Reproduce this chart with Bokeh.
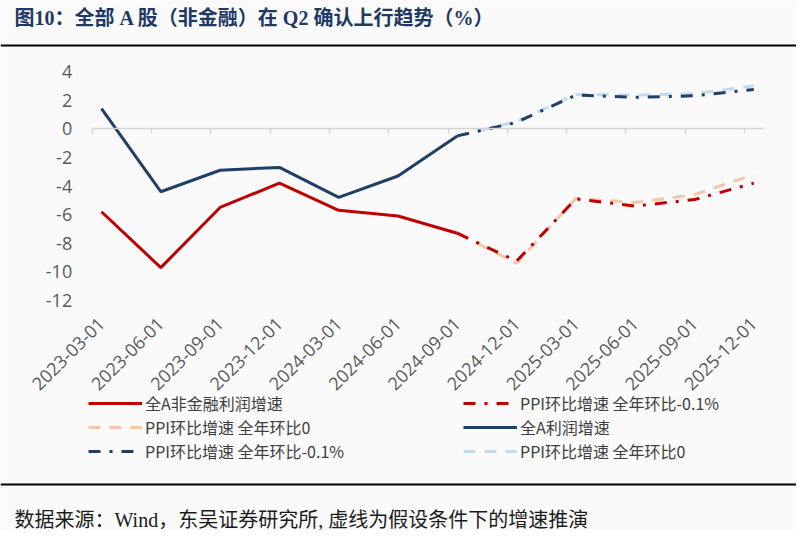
import math
from bokeh.plotting import figure
from bokeh.models import (Range1d, FixedTicker, LinearAxis, Legend, LegendItem, Label, Span)
from bokeh.embed import file_html
from bokeh.resources import INLINE

# ---------------- data ----------------
dates = ["2023-03-01", "2023-06-01", "2023-09-01", "2023-12-01",
         "2024-03-01", "2024-06-01", "2024-09-01", "2024-12-01",
         "2025-03-01", "2025-06-01", "2025-09-01", "2025-12-01"]
y_ticks = [-12, -10, -8, -6, -4, -2, 0, 2, 4]
y_tick_labels = ["-12", "-10", "-8", "-6", "-4", "-2", "0", "2", "4"]

# actual (2023-03 .. 2024-09)
nonfin_actual = [-5.8, -9.7, -5.5, -3.8, -5.7, -6.1, -7.3]
all_actual = [1.4, -4.4, -2.9, -2.7, -4.8, -3.3, -0.5]
# projections (2024-09 .. 2025-12)
nonfin_ppi_m01 = [-7.3, -9.25, -4.9, -5.4, -4.95, -3.8]
nonfin_ppi_0 = [-7.3, -9.4, -4.85, -5.15, -4.6, -3.2]
all_ppi_m01 = [-0.5, 0.45, 2.35, 2.2, 2.3, 2.75]
all_ppi_0 = [-0.5, 0.5, 2.4, 2.35, 2.45, 3.0]

series_names = ["全A非金融利润增速", "PPI环比增速 全年环比-0.1%", "PPI环比增速 全年环比0",
                "全A利润增速", "PPI环比增速 全年环比-0.1%", "PPI环比增速 全年环比0"]
title_text = "图10：全部 A 股（非金融）在 Q2 确认上行趋势（%）"
source_text = "数据来源：Wind，东吴证券研究所, 虚线为假设条件下的增速推演"

x_actual = list(range(len(nonfin_actual)))
x_proj = list(range(len(nonfin_actual) - 1, len(dates)))

# ---------------- layout (pixel geometry) ----------------
W, H = 796, 530
CAT_PX = 59.3          # px per category
X_FIRST = 101          # px of first category
Y_TOP_PX = 71          # px of y = 4
Y_PX = 229 / 16        # px per unit


def xd(px):
    return (px - X_FIRST) / CAT_PX


def yd(py):
    return y_ticks[-1] - (py - Y_TOP_PX) / Y_PX


BG = "#fafafa"
RED = "#c00000"
PEACH = "#f6c6a9"
NAVY = "#203f66"
LBLUE = "#c3dbf0"
GREY = "#595959"
CJK = "Noto Sans CJK SC"
MIXED = "Liberation Serif, Noto Sans CJK SC"
DASH = "12 9"
DASHDOT = "12 9 3 9"
AX_LEFT = xd(91.7)
AX_RIGHT = xd(763)

p = figure(width=W, height=H, output_backend="svg", toolbar_location=None,
           x_range=Range1d(xd(0), xd(W)), y_range=Range1d(yd(H), yd(0)),
           min_border=0, x_axis_location=None, y_axis_location=None,
           background_fill_color=BG, border_fill_color=BG, outline_line_color=None)
p.grid.visible = False

# y axis (labels only)
yax = LinearAxis(fixed_location=AX_LEFT, ticker=FixedTicker(ticks=y_ticks),
                 major_label_overrides=dict(zip(y_ticks, y_tick_labels)),
                 axis_line_color=None, major_tick_line_color=None,
                 minor_tick_line_color=None, major_label_text_font_size="18px",
                 major_label_text_color=GREY, major_label_text_font="Open Sans",
                 major_label_standoff=14)
p.add_layout(yax, "left")

# zero line with category ticks
zax = LinearAxis(fixed_location=0, bounds=(AX_LEFT, AX_RIGHT),
                 ticker=FixedTicker(ticks=[i + AX_LEFT for i in range(len(dates))]),
                 axis_line_color="#d4d4d4", axis_line_width=1.5,
                 major_tick_line_color="#d4d4d4", major_tick_line_width=1.5,
                 major_tick_out=5, major_tick_in=0, minor_tick_line_color=None,
                 major_label_text_alpha=0, major_label_text_font_size="1px",
                 major_label_standoff=0)
p.add_layout(zax, "below")

# category labels at the bottom of the plot area
xlab = LinearAxis(fixed_location=y_ticks[0], ticker=FixedTicker(ticks=list(range(len(dates)))),
                  major_label_overrides={i: d for i, d in enumerate(dates)},
                  major_label_orientation=math.pi / 4,
                  axis_line_color=None, major_tick_line_color=None,
                  minor_tick_line_color=None, major_tick_out=0, major_tick_in=0,
                  major_label_standoff=20, major_label_text_font_size="18px",
                  major_label_text_color=GREY, major_label_text_font="Open Sans")
p.add_layout(xlab, "below")

r_all0 = p.line(x_proj, all_ppi_0, line_color=LBLUE, line_width=3, line_dash=DASH)
r_nf0 = p.line(x_proj, nonfin_ppi_0, line_color=PEACH, line_width=3, line_dash=DASH)
r_allm = p.line(x_proj, all_ppi_m01, line_color=NAVY, line_width=3, line_dash=DASHDOT)
r_nfm = p.line(x_proj, nonfin_ppi_m01, line_color=RED, line_width=3, line_dash=DASHDOT)
r_all = p.line(x_actual, all_actual, line_color=NAVY, line_width=3)
r_nf = p.line(x_actual, nonfin_actual, line_color=RED, line_width=3)

leg_style = dict(border_line_color=None, background_fill_alpha=0, padding=0, margin=0,
                 spacing=0, glyph_width=54, glyph_height=22, label_height=22,
                 label_standoff=3, label_text_font_size="16px", label_text_color="#404040",
                 label_text_font=CJK, label_text_baseline="middle")
LEG_Y = H - 463
leg_left = Legend(items=[LegendItem(label=series_names[0], renderers=[r_nf]),
                         LegendItem(label=series_names[2], renderers=[r_nf0]),
                         LegendItem(label=series_names[4], renderers=[r_allm])],
                  location=(88, LEG_Y), **leg_style)
leg_right = Legend(items=[LegendItem(label=series_names[1], renderers=[r_nfm]),
                          LegendItem(label=series_names[3], renderers=[r_all]),
                          LegendItem(label=series_names[5], renderers=[r_all0])],
                   location=(463, LEG_Y), **leg_style)
p.add_layout(leg_left)
p.add_layout(leg_right)

# title, rules, source note
p.add_layout(Label(x=xd(14), y=yd(17), text=title_text, text_font=MIXED,
                   text_font_size="20px", text_font_style="bold", text_color="#1f3864",
                   text_baseline="middle"))
p.add_layout(Span(location=yd(45), dimension="width", line_color="black", line_width=2))
p.add_layout(Span(location=yd(484), dimension="width", line_color="black", line_width=2))
p.add_layout(Label(x=xd(14), y=yd(519), text=source_text, text_font=MIXED,
                   text_font_size="20px", text_color="#1a1a1a", text_baseline="middle"))

open("out.html", "w").write(file_html(p, INLINE))
